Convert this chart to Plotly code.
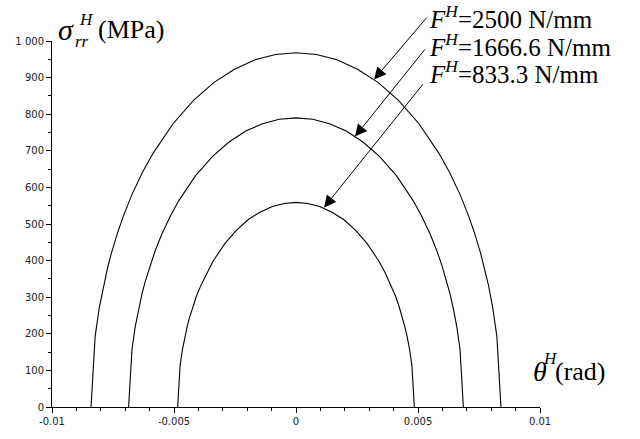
import plotly.graph_objects as go

# ---- data (right half; curves are symmetric about theta = 0) ----
theta_2500 = [0, 0.00084, 0.00168, 0.00252, 0.00336, 0.0042, 0.00504, 0.00588, 0.0063, 0.00672,
              0.007056, 0.007308, 0.00756, 0.007728, 0.007896, 0.008064, 0.008232, 0.0084]
sigma_2500 = [968, 963, 949, 923, 887, 838, 774, 691, 640, 581,
              525, 477, 422, 379, 330, 271, 193, 0]

theta_1666 = [0, 0.000686, 0.001372, 0.002058, 0.002744, 0.00343, 0.004116, 0.004802, 0.005145, 0.005488,
              0.005762, 0.005968, 0.006174, 0.006311, 0.006448, 0.006586, 0.006723, 0.00686]
sigma_1666 = [790, 786, 774, 754, 724, 684, 632, 564, 522, 474,
              429, 389, 344, 310, 269, 221, 157, 0]

theta_833 = [0, 0.000485, 0.00097, 0.001455, 0.00194, 0.002425, 0.00291, 0.003395, 0.003638, 0.00388,
             0.004074, 0.00422, 0.004365, 0.004462, 0.004559, 0.004656, 0.004753, 0.00485]
sigma_833 = [559, 556, 548, 533, 513, 484, 447, 399, 369, 335,
             304, 276, 244, 219, 191, 157, 111, 0]

series_labels = ["<i>F</i><sup><i>H</i></sup>=2500 N/mm",
                 "<i>F</i><sup><i>H</i></sup>=1666.6 N/mm",
                 "<i>F</i><sup><i>H</i></sup>=833.3 N/mm"]

x_tickvals = [-0.01, -0.005, 0, 0.005, 0.01]
x_ticktext = ["-0.01", "-0.005", "0", "0.005", "0.01"]
y_tickvals = [0, 100, 200, 300, 400, 500, 600, 700, 800, 900, 1000]
y_ticktext = ["0", "100", "200", "300", "400", "500", "600", "700", "800", "900", "1 000"]

# arrow tips (on curves) and tails (near labels), data coords
arrow_tips = [(0.0032, 895), (0.00242, 739), (0.00115, 545)]
arrow_tails = [(0.00541, 1068), (0.00533, 981), (0.00525, 886)]


def full(th, sg):
    xs = [-t for t in th[::-1]] + th[1:]
    ys = sg[::-1] + sg[1:]
    return xs, ys


fig = go.Figure()
for th, sg in [(theta_2500, sigma_2500), (theta_1666, sigma_1666), (theta_833, sigma_833)]:
    xs, ys = full(th, sg)
    fig.add_trace(go.Scatter(x=xs, y=ys, mode="lines",
                             line=dict(color="black", width=1.1), showlegend=False,
                             hoverinfo="skip"))

W, H = 640, 439
L, R, T, B = 52, 100, 41, 28
PW, PH = W - L - R, H - T - B


def px(x):
    return (x - L) / PW


def py(y):
    return (H - B - y) / PH


serif = "Liberation Serif"
ann = []
# series labels
label_y = [17, 45, 72]
for txt, yy in zip(series_labels, label_y):
    ann.append(dict(text=txt, x=px(427), y=py(yy), xref="paper", yref="paper",
                    xanchor="left", yanchor="middle", showarrow=False,
                    font=dict(family=serif, size=25, color="black")))
# arrows
for (tx, ty), (sx, sy) in zip(arrow_tips, arrow_tails):
    ann.append(dict(text="", x=tx, y=ty, ax=sx, ay=sy, xref="x", yref="y",
                    axref="x", ayref="y", showarrow=True, arrowhead=2,
                    arrowsize=2.4, arrowwidth=1, arrowcolor="black", standoff=0))
# y title: sigma_rr^H (MPa)
ann += [
    dict(text="<i>σ</i>", x=px(56), y=py(29), xref="paper", yref="paper",
         xanchor="left", yanchor="middle", showarrow=False,
         font=dict(family=serif, size=30, color="black")),
    dict(text="<i>rr</i>", x=px(73), y=py(42), xref="paper", yref="paper",
         xanchor="left", yanchor="middle", showarrow=False,
         font=dict(family=serif, size=17, color="black")),
    dict(text="<i>H</i>", x=px(77), y=py(19), xref="paper", yref="paper",
         xanchor="left", yanchor="middle", showarrow=False,
         font=dict(family=serif, size=17, color="black")),
    dict(text="(MPa)", x=px(96), y=py(29), xref="paper", yref="paper",
         xanchor="left", yanchor="middle", showarrow=False,
         font=dict(family=serif, size=26, color="black")),
    # x title: theta^H (rad)
    dict(text="<i>θ</i>", x=px(531), y=py(375), xref="paper", yref="paper",
         xanchor="left", yanchor="middle", showarrow=False,
         font=dict(family=serif, size=28, color="black")),
    dict(text="<i>H</i>", x=px(541), y=py(362), xref="paper", yref="paper",
         xanchor="left", yanchor="middle", showarrow=False,
         font=dict(family=serif, size=17, color="black")),
    dict(text="(rad)", x=px(553), y=py(375), xref="paper", yref="paper",
         xanchor="left", yanchor="middle", showarrow=False,
         font=dict(family=serif, size=26, color="black")),
]

tickfont = dict(family="DejaVu Sans", size=10, color="#222")
fig.update_layout(
    width=W, height=H, margin=dict(l=L, r=R, t=T, b=B),
    paper_bgcolor="white", plot_bgcolor="white",
    annotations=ann,
    xaxis=dict(range=[-0.01, 0.01], showgrid=False, zeroline=False,
               showline=True, linecolor="black", linewidth=1,
               ticks="outside", ticklen=5, tickcolor="black", tickwidth=1,
               tickvals=x_tickvals, ticktext=x_ticktext, tickfont=tickfont,
               minor=dict(ticks="outside", dtick=0.001, tick0=0, ticklen=3,
                          tickcolor="black", tickwidth=1),
               fixedrange=True),
    yaxis=dict(range=[0, 1000], showgrid=False, zeroline=False,
               showline=True, linecolor="black", linewidth=1,
               ticks="outside", ticklen=5, tickcolor="black", tickwidth=1,
               tickvals=y_tickvals, ticktext=y_ticktext, tickfont=tickfont,
               minor=dict(ticks="outside", dtick=50, tick0=0, ticklen=3,
                          tickcolor="black", tickwidth=1),
               fixedrange=True),
)

fig.write_html("out.html", config={"displayModeBar": False},
               post_script="document.body.style.margin='0px';")
